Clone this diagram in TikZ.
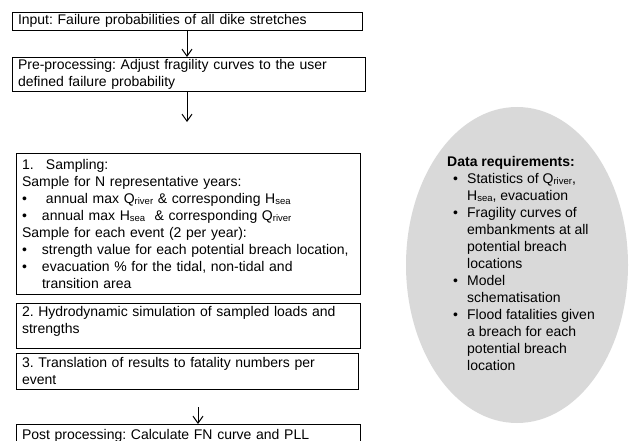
\documentclass[tikz,border=0pt]{standalone}
\usepackage{fontspec}
\setmainfont{Liberation Sans}
\usetikzlibrary{arrows.meta,shapes.geometric}
\frenchspacing
\newcommand{\idx}[1]{\raisebox{-1pt}{\fontsize{9.5}{9.5}\selectfont #1}}
\newcommand{\itm}[1][20pt]{\makebox[#1][l]{\textbullet}}
\definecolor{ellgray}{RGB}{217,217,217}

\begin{document}
\begin{tikzpicture}[x=1pt,y=-1pt,
  box/.style={draw, line width=0.8pt, anchor=north west, align=left, inner xsep=6pt, inner ysep=2pt, outer sep=0pt, font=\fontsize{14}{17}\selectfont},
  arr/.style={line width=1pt, -{Straight Barb[length=7pt,width=10pt]}}]
\useasboundingbox (0,0) rectangle (631,441);
\clip (0,0) rectangle (631,441);
\fill[white] (0,0) rectangle (631,441);

\node[ellipse, fill=ellgray, minimum width=222pt, minimum height=316pt, inner sep=0pt] (dataell) at (517,265) {};
\node[anchor=north west, align=left, inner sep=0pt, font=\fontsize{14}{17}\selectfont] (datareq) at (447,156) {\textbf{Data requirements:}\\
\hspace*{6pt}\itm[14pt]Statistics of Q\idx{river},\\
\hspace*{20pt}H\idx{sea}, evacuation\\
\hspace*{6pt}\itm[14pt]Fragility curves of\\
\hspace*{20pt}embankments at all\\
\hspace*{20pt}potential breach\\
\hspace*{20pt}locations\\
\hspace*{6pt}\itm[14pt]Model\\
\hspace*{20pt}schematisation\\
\hspace*{6pt}\itm[14pt]Flood fatalities given\\
\hspace*{20pt}a breach for each\\
\hspace*{20pt}potential breach\\
\hspace*{20pt}location};

\node[box, text width=338pt, minimum height=18pt] (input) at (12,12) {Input: Failure probabilities of all dike stretches};
\node[box, text width=341pt, minimum height=34pt] (pre) at (12,57) {Pre-processing: Adjust fragility curves to the user\\defined failure probability};
\node[box, text width=332pt, minimum height=141pt] (sampling) at (16,153) {\makebox[24pt][l]{1.}Sampling:\\
Sample for N representative years:\\
\itm[24pt]annual max Q\idx{river} \& corresponding H\idx{sea}\\
\itm annual max H\idx{sea}\ \ \& corresponding Q\idx{river}\\
Sample for each event (2 per year):\\
\itm strength value for each potential breach location,\\
\itm evacuation \% for the tidal, non-tidal and\\
\hspace*{20pt}transition area};
\node[box, text width=332pt, minimum height=45pt] (hydro) at (16,303) {2. Hydrodynamic simulation of sampled loads and\\strengths\\[-6pt]\mbox{}};
\node[box, text width=330pt, minimum height=36pt] (fatal) at (16,353) {3. Translation of results to fatality numbers per\\event};
\node[box, text width=332pt, minimum height=23pt] (post) at (16,424) {Post processing: Calculate FN curve and PLL};

\coordinate (upper) at (187,122);
\coordinate (lower) at (198,407);
\draw[arr] (input.south -| upper) -- (pre.north -| upper);
\draw[arr] (pre.south -| upper) -- (upper);
\draw[arr] (lower) -- (post.north -| lower);
\end{tikzpicture}
\end{document}
